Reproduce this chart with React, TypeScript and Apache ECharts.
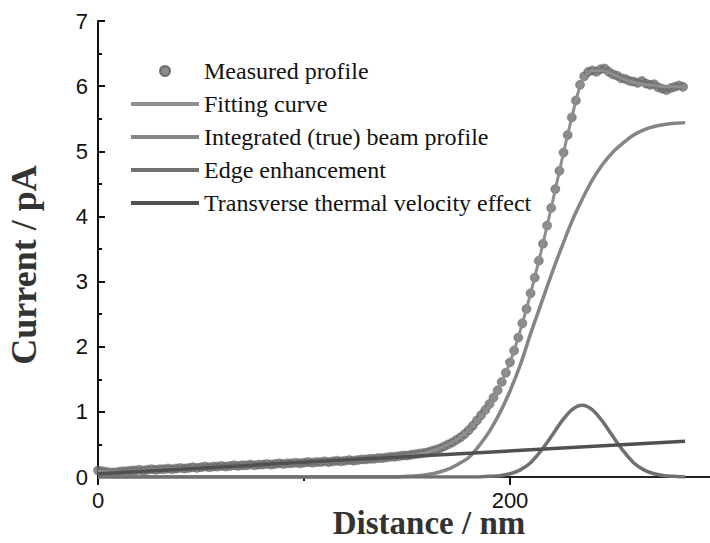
import React, { useEffect, useRef } from "react";
import * as echarts from "echarts";

// ---- data ----
const MEASURED_STEP = 2; // nm between measured samples
const measuredValues = [
  0.10, 0.09, 0.08, 0.07, 0.07, 0.08, 0.09, 0.09, 0.10, 0.10,
  0.11, 0.10, 0.11, 0.12, 0.11, 0.12, 0.12, 0.13, 0.12, 0.13,
  0.14, 0.13, 0.14, 0.15, 0.14, 0.15, 0.16, 0.15, 0.16, 0.16,
  0.17, 0.16, 0.17, 0.18, 0.17, 0.18, 0.18, 0.19, 0.18, 0.19,
  0.19, 0.20, 0.19, 0.20, 0.21, 0.20, 0.21, 0.21, 0.22, 0.21,
  0.22, 0.23, 0.22, 0.23, 0.23, 0.24, 0.23, 0.24, 0.25, 0.24,
  0.25, 0.26, 0.25, 0.26, 0.27, 0.27, 0.28, 0.28, 0.29, 0.29,
  0.30, 0.31, 0.31, 0.32, 0.33, 0.33, 0.34, 0.35, 0.36, 0.37,
  0.38, 0.40, 0.42, 0.44, 0.47, 0.50, 0.53, 0.57, 0.61, 0.66,
  0.72, 0.79, 0.87, 0.95, 1.03, 1.12, 1.22, 1.33, 1.46, 1.60,
  1.76, 1.94, 2.14, 2.36, 2.58, 2.82, 3.06, 3.32, 3.58, 3.86,
  4.13, 4.42, 4.70, 4.98, 5.25, 5.52, 5.78, 6.02, 6.15, 6.22,
  6.24, 6.22, 6.26, 6.27, 6.22, 6.18, 6.16, 6.12, 6.11, 6.08,
  6.07, 6.05, 6.08, 6.04, 6.02, 6.03, 5.98, 5.96, 5.94, 5.97,
  5.99, 6.01, 5.99,
];

const fitX = [0, 10, 20, 30, 40, 50, 60, 70, 80, 90, 100, 110, 120, 130, 140, 145, 150, 155, 160, 165, 170, 175, 180, 185, 190, 195, 200, 205, 210, 215, 220, 225, 230, 235, 240, 245, 250, 255, 260, 265, 270, 275, 280, 285];
const fitY = [0.08, 0.08, 0.10, 0.12, 0.13, 0.15, 0.16, 0.18, 0.19, 0.20, 0.22, 0.23, 0.25, 0.27, 0.30, 0.31, 0.33, 0.35, 0.38, 0.43, 0.50, 0.59, 0.72, 0.90, 1.10, 1.40, 1.76, 2.25, 2.82, 3.45, 4.13, 4.84, 5.52, 6.08, 6.24, 6.24, 6.18, 6.11, 6.06, 6.03, 6.01, 5.99, 5.99, 5.99];

const integratedX = [0, 100, 145, 150, 155, 160, 165, 170, 175, 180, 185, 190, 195, 200, 205, 210, 215, 220, 225, 230, 235, 240, 245, 250, 255, 260, 265, 270, 275, 280, 285];
const integratedY = [0, 0, 0, 0.01, 0.02, 0.04, 0.07, 0.12, 0.20, 0.30, 0.48, 0.70, 0.98, 1.32, 1.72, 2.20, 2.65, 3.10, 3.52, 3.92, 4.26, 4.56, 4.80, 4.99, 5.13, 5.25, 5.33, 5.38, 5.41, 5.43, 5.44];

const edgeX = [0, 100, 180, 185, 190, 195, 200, 205, 210, 215, 220, 225, 230, 235, 240, 245, 250, 255, 260, 265, 270, 275, 280, 285];
const edgeY = [0, 0, 0, 0, 0.01, 0.02, 0.05, 0.11, 0.22, 0.40, 0.62, 0.85, 1.03, 1.10, 1.03, 0.85, 0.62, 0.40, 0.22, 0.11, 0.05, 0.02, 0.01, 0];

const transverseX = [0, 285];
const transverseY = [0.05, 0.55];

const seriesNames = [
  "Measured profile",
  "Fitting curve",
  "Integrated (true) beam profile",
  "Edge enhancement",
  "Transverse thermal velocity effect",
];
const seriesColors = ["#6e6e6e", "#8e8e8e", "#858585", "#707070", "#505050"];

const xTicks = { min: 0, max: 300, interval: 200 };
const yTicks = { min: 0, max: 7, interval: 1 };

const pairs = (xs: number[], ys: number[]) => xs.map((x, i) => [x, ys[i]]);

export default function App() {
  const ref = useRef<HTMLDivElement>(null);
  useEffect(() => {
    document.body.style.margin = "0";
    if (!ref.current) return;
    const chart = echarts.init(ref.current, undefined, { renderer: "svg" });
    const measured = measuredValues.map((v, i) => [i * MEASURED_STEP, v]);
    const tickFont = { fontFamily: "Liberation Sans", fontSize: 22, color: "#111", lineHeight: 20 };
    const legendData = seriesNames.map((name, i) =>
      i === 0
        ? { name }
        : { name, itemStyle: { opacity: 0 }, lineStyle: { width: 4, color: seriesColors[i] } }
    );
    chart.setOption({
      animation: false,
      backgroundColor: "#fff",
      grid: { left: 98, top: 21, bottom: 66, right: -6, containLabel: false, outerBoundsMode: "none" },
      legend: {
        orient: "vertical",
        left: 124,
        top: 54,
        itemWidth: 68,
        itemHeight: 10,
        itemGap: 9,
        textStyle: {
          fontFamily: "Liberation Serif",
          fontSize: 24,
          color: "#111",
          lineHeight: 24,
        },
        data: legendData,
      },
      xAxis: [
        {
          type: "value",
          min: xTicks.min,
          max: xTicks.max,
          interval: xTicks.interval,
          position: "bottom",
          axisLine: { show: true, onZero: false, lineStyle: { color: "#111", width: 2 } },
          axisTick: { show: true, inside: false, length: 8, lineStyle: { color: "#111", width: 2 } },
          minorTick: { show: true, splitNumber: 2, length: 4, lineStyle: { color: "#111", width: 2 } },
          splitLine: { show: false },
          axisLabel: { ...tickFont, margin: 13, showMaxLabel: false },
          name: "Distance / nm",
          nameLocation: "middle",
          nameGap: 32,
          nameMoveOverlap: false,
          nameTextStyle: {
            fontFamily: "Liberation Serif",
            fontWeight: "bold",
            fontSize: 33,
            lineHeight: 28,
            color: "#333",
            padding: [0, 0, 0, 44],
          },
        },
        {
          type: "value",
          min: xTicks.min,
          max: xTicks.max,
          position: "top",
          axisLine: { show: true, lineStyle: { color: "#222", width: 2 } },
          axisTick: { show: false },
          axisLabel: { show: false },
          splitLine: { show: false },
        },
      ],
      yAxis: {
        type: "value",
        min: yTicks.min,
        max: yTicks.max,
        interval: yTicks.interval,
        axisLine: { show: true, lineStyle: { color: "#111", width: 2 } },
        axisTick: { show: true, inside: true, length: 7, lineStyle: { color: "#111", width: 2 } },
        minorTick: { show: true, splitNumber: 2, length: 4, lineStyle: { color: "#111", width: 2 } },
        splitLine: { show: false },
        axisLabel: { ...tickFont, margin: 10 },
        name: "Current / pA",
        nameLocation: "middle",
        nameGap: 56,
        nameTextStyle: {
          fontFamily: "Liberation Serif",
          fontWeight: "bold",
          fontSize: 36,
          color: "#333",
          padding: [0, 32, 0, 0],
        },
      },
      series: [
        {
          name: seriesNames[0],
          type: "scatter",
          data: measured,
          symbol: "circle",
          symbolSize: 9,
          itemStyle: { color: seriesColors[0], borderColor: "#5a5a5a", borderWidth: 0.6 },
          z: 2,
        },
        {
          name: seriesNames[1],
          type: "line",
          data: pairs(fitX, fitY),
          smooth: 0.3,
          symbol: "none",
          lineStyle: { color: seriesColors[1], width: 3 },
          itemStyle: { color: seriesColors[1] },
          z: 3,
        },
        {
          name: seriesNames[2],
          type: "line",
          data: pairs(integratedX, integratedY),
          smooth: 0.3,
          symbol: "none",
          lineStyle: { color: seriesColors[2], width: 3.5 },
          itemStyle: { color: seriesColors[2] },
          z: 3,
        },
        {
          name: seriesNames[3],
          type: "line",
          data: pairs(edgeX, edgeY),
          smooth: 0.3,
          symbol: "none",
          lineStyle: { color: seriesColors[3], width: 3.5 },
          itemStyle: { color: seriesColors[3] },
          z: 3,
        },
        {
          name: seriesNames[4],
          type: "line",
          data: pairs(transverseX, transverseY),
          symbol: "none",
          lineStyle: { color: seriesColors[4], width: 3.5 },
          itemStyle: { color: seriesColors[4] },
          z: 3,
        },
      ],
    });
    return () => chart.dispose();
  }, []);
  return <div ref={ref} style={{ width: 710, height: 543 }} />;
}
